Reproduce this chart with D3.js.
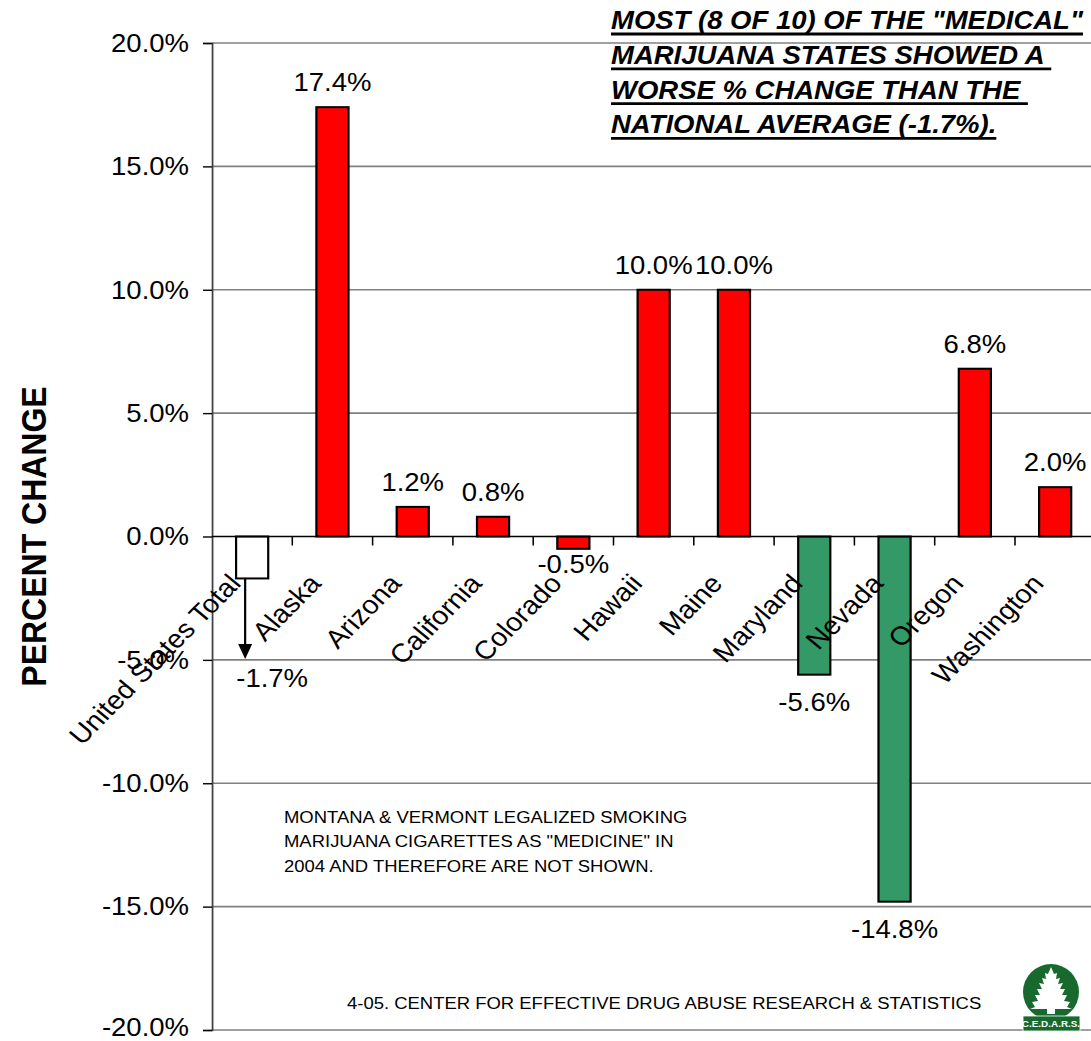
<!DOCTYPE html>
<html>
<head>
<meta charset="utf-8">
<script src="https://cdn.jsdelivr.net/npm/d3@7"></script>
<style>
  html, body { margin: 0; padding: 0; background: #fff; }
  svg { display: block; }
</style>
</head>
<body>
<div id="chart"></div>
<script>
// Data
const states = ["United States Total", "Alaska", "Arizona", "California", "Colorado",
                "Hawaii", "Maine", "Maryland", "Nevada", "Oregon", "Washington"];
const changes = [-1.7, 17.4, 1.2, 0.8, -0.5, 10.0, 10.0, -5.6, -14.8, 6.8, 2.0];
const yTicks = [-20, -15, -10, -5, 0, 5, 10, 15, 20];
const titleLines = [
    "MOST (8 OF 10) OF THE \"MEDICAL\"",
    "MARIJUANA STATES SHOWED A ",
    "WORSE % CHANGE THAN THE ",
    "NATIONAL AVERAGE (-1.7%)."
];
const noteLines = [
    "MONTANA & VERMONT LEGALIZED SMOKING",
    "MARIJUANA CIGARETTES AS \"MEDICINE\" IN",
    "2004 AND THEREFORE ARE NOT SHOWN."
];
const footerText = "4-05. CENTER FOR EFFECTIVE DRUG ABUSE RESEARCH & STATISTICS";

// The original picture is a bit wider than tall in its glyphs, so the drawing
// is done in a narrower coordinate space and stretched horizontally.
const SX = 1.1;
const width = 1091, height = 1041;
const vw = width / SX;
const px = v => v / SX;   // screen x -> drawing x

const font = "'Liberation Sans', Arial, sans-serif";
const step = 80.3;
const plotLeft = 212, plotTop = 43, plotBottom = 1030;

const svg = d3.select("#chart").append("svg")
    .attr("width", width)
    .attr("height", height)
    .attr("viewBox", [0, 0, vw, height])
    .attr("preserveAspectRatio", "none");

const x = d3.scaleBand()
    .domain(states)
    .range([px(plotLeft), px(plotLeft + step * states.length)])
    .paddingInner(0.6)
    .paddingOuter(0.3);

const y = d3.scaleLinear()
    .domain([-20, 20])
    .range([plotBottom, plotTop]);

const usValue = changes[0];
const data = states.map((s, i) => ({name: s, value: changes[i]}));

// gridlines
svg.append("g")
    .selectAll("line")
    .data(yTicks.filter(t => t !== 0))
    .join("line")
    .attr("x1", px(plotLeft))
    .attr("x2", vw + 10)
    .attr("y1", d => y(d))
    .attr("y2", d => y(d))
    .attr("stroke", "#808080")
    .attr("stroke-width", 1.6);

// y axis
const yAxis = svg.append("g")
    .attr("transform", `translate(${px(plotLeft)},0)`)
    .call(d3.axisLeft(y).tickValues(yTicks).tickSize(px(9)).tickPadding(px(14))
        .tickFormat(d => d.toFixed(1) + "%"));
yAxis.select(".domain").attr("stroke", "#404040").attr("stroke-width", 1.6);
yAxis.selectAll(".tick line").attr("stroke", "#000").attr("stroke-width", 1.4);
yAxis.selectAll(".tick text")
    .attr("font-family", font)
    .attr("font-size", 25)
    .attr("fill", "#000")
    .attr("dy", d => d === -20 ? "0.2em" : "0.33em");

// bars
svg.append("g")
    .selectAll("rect")
    .data(data)
    .join("rect")
    .attr("x", d => x(d.name))
    .attr("width", x.bandwidth())
    .attr("y", d => y(Math.max(0, d.value)))
    .attr("height", d => Math.abs(y(d.value) - y(0)))
    .attr("fill", (d, i) => i === 0 ? "#fff" : (d.value > usValue ? "#FF0000" : "#339966"))
    .attr("stroke", "#000")
    .attr("stroke-width", 2);

// zero line + category ticks
svg.append("line")
    .attr("x1", px(plotLeft)).attr("x2", vw + 10)
    .attr("y1", y(0)).attr("y2", y(0))
    .attr("stroke", "#000").attr("stroke-width", 1.6);
svg.append("g")
    .selectAll("line")
    .data(d3.range(1, states.length))
    .join("line")
    .attr("x1", k => px(plotLeft + k * step))
    .attr("x2", k => px(plotLeft + k * step))
    .attr("y1", y(0))
    .attr("y2", y(0) + 9)
    .attr("stroke", "#000")
    .attr("stroke-width", 1.4);

// category labels
svg.append("g")
    .selectAll("text")
    .data(states)
    .join("text")
    .attr("transform", d => `translate(${x(d) + x.bandwidth() / 2 - px(10)},${y(0) + 48}) rotate(-48)`)
    .attr("text-anchor", "end")
    .attr("font-family", font)
    .attr("font-size", 26)
    .attr("fill", "#000")
    .text(d => d);

// value labels
const nudge = {"Colorado": -12};
svg.append("g")
    .selectAll("text")
    .data(data.slice(1))
    .join("text")
    .attr("x", d => x(d.name) + x.bandwidth() / 2)
    .attr("y", d => d.value >= 0 ? y(d.value) - 16 : y(d.value) + 36 + (nudge[d.name] || 0))
    .attr("text-anchor", "middle")
    .attr("font-family", font)
    .attr("font-size", 25)
    .attr("fill", "#000")
    .text(d => d.value.toFixed(1) + "%");

// national average: arrow down to the -5% line with its label
const usX = x(states[0]) + x.bandwidth() / 2 - px(7);
svg.append("line")
    .attr("x1", usX).attr("x2", usX)
    .attr("y1", y(usValue)).attr("y2", y(-5) - 12)
    .attr("stroke", "#000").attr("stroke-width", 2);
svg.append("path")
    .attr("d", `M${usX - px(7)},${y(-5) - 16} L${usX + px(7)},${y(-5) - 16} L${usX},${y(-5) - 1} Z`)
    .attr("fill", "#000");
svg.append("text")
    .attr("x", usX + px(27))
    .attr("y", y(-5) + 27)
    .attr("text-anchor", "middle")
    .attr("font-family", font)
    .attr("font-size", 25)
    .text(usValue.toFixed(1) + "%");

// y axis title
svg.append("text")
    .attr("transform", `translate(${px(46)},${(plotTop + plotBottom) / 2}) rotate(-90)`)
    .attr("text-anchor", "middle")
    .attr("font-family", font)
    .attr("font-weight", "bold")
    .attr("font-size", 32)
    .text("PERCENT CHANGE");

// headline, bold italic underlined
const title = svg.append("g");
titleLines.forEach((line, i) => {
    const t = title.append("text")
        .attr("x", px(611))
        .attr("y", 29 + i * 34.8)
        .attr("font-family", font)
        .attr("font-weight", "bold")
        .attr("font-style", "italic")
        .attr("font-size", 25)
        .style("white-space", "pre")
        .text(line);
    const len = t.node().getComputedTextLength();
    title.append("line")
        .attr("x1", px(611)).attr("x2", px(611) + len)
        .attr("y1", 29 + i * 34.8 + 5).attr("y2", 29 + i * 34.8 + 5)
        .attr("stroke", "#000").attr("stroke-width", 2.8);
});

// note
svg.append("g")
    .selectAll("text")
    .data(noteLines)
    .join("text")
    .attr("x", px(284))
    .attr("y", (d, i) => 823 + i * 24.5)
    .attr("font-family", font)
    .attr("font-size", 16.8)
    .text(d => d);

svg.append("text")
    .attr("x", px(347))
    .attr("y", 1009)
    .attr("font-family", font)
    .attr("font-size", 16.8)
    .text(footerText);

// C.E.D.A.R.S. logo
const logo = svg.append("g");
const lx = px(1051), ly = 992;
logo.append("ellipse")
    .attr("cx", lx).attr("cy", ly).attr("rx", px(28)).attr("ry", 28)
    .attr("fill", "#17692e");
const tree = [
    [0, -25], [3, -18], [6, -19], [5, -13], [9, -14], [7, -8], [12, -9], [9, -3],
    [14, -3], [11, 3], [16, 3], [13, 9], [19, 10], [16, 15], [21, 17], [4, 17], [4, 22],
    [-4, 22], [-4, 17], [-21, 17], [-16, 15], [-19, 10], [-13, 9], [-16, 3], [-11, 3],
    [-14, -3], [-9, -3], [-12, -9], [-7, -8], [-9, -14], [-5, -13], [-6, -19], [-3, -18]
];
logo.append("path")
    .attr("d", d3.line().x(p => lx + px(p[0])).y(p => ly + p[1])(tree) + "Z")
    .attr("fill", "#fff");
logo.append("rect")
    .attr("x", px(1023)).attr("y", 1016)
    .attr("width", px(57)).attr("height", 15)
    .attr("fill", "#17692e")
    .attr("stroke", "#fff").attr("stroke-width", 0.8);
logo.append("text")
    .attr("x", lx).attr("y", 1027.5)
    .attr("text-anchor", "middle")
    .attr("font-family", font)
    .attr("font-weight", "bold")
    .attr("font-size", 9)
    .attr("fill", "#fff")
    .text("C.E.D.A.R.S.");
</script>
</body>
</html>
